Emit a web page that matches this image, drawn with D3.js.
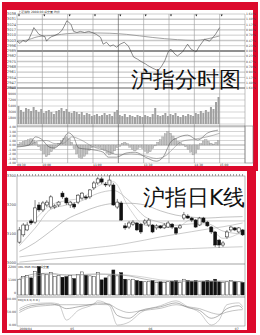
<!DOCTYPE html>
<html>
<head>
<meta charset="utf-8">
<script src="https://cdn.jsdelivr.net/npm/d3@7"></script>
<style>
  body { margin: 0; background: #fff; }
  svg { display: block; }
  text { font-family: "DejaVu Sans", sans-serif; }
</style>
</head>
<body>
<svg id="chart" width="260" height="335"></svg>
<script>
// ---- intraday (top) ----
const priceTicks = [3038, 3031, 3024, 3017, 3010, 3003, 2996, 2989, 2982, 2975, 2968, 2961, 2954, 2947, 2940];
const pctTicks = ["1.64%", "1.40%", "1.17%", "0.94%", "0.70%", "0.47%", "0.23%", "0.00%", "0.23%", "0.47%", "0.70%", "0.94%", "1.17%", "1.40%", "1.64%"];
const prevClose = 2989;
const timeTicks = [0, 30, 60, 90, 120, 150, 180, 210, 240, 270];
const timeLabelMin = [0, 30, 90, 150, 210, 240];
const timeLabels = ["09:30", "10:00", "11:00", "13:30", "14:30", "15:00"];

const lineMin = [0, 3.5, 7, 10.6, 14, 17.6, 20, 22, 26, 29, 33, 35, 38, 41, 45, 49, 53, 56, 59, 61, 64, 67, 71, 75, 80, 85, 89, 94, 99, 102, 106, 110, 114, 118, 122, 127, 132, 138, 143, 147, 152, 155, 161, 167, 171, 175, 179, 182, 187, 190, 196, 202, 206, 212, 216, 222, 228, 232, 235, 240];
const linePrice = [3002, 2999, 3003, 3001, 3004.5, 3013.5, 3020, 3017, 3011, 3009.6, 3008, 3002, 3006, 3008, 3009.6, 3012, 3016, 3022, 3029, 3027.5, 3024, 3015, 3013.5, 3015, 3013.5, 3015, 3013.5, 3011, 3007, 2998, 3000.6, 2995.4, 2997, 2994, 2998, 3000.6, 2995.4, 2981, 2978, 2975, 2972, 2969.7, 2966, 2963, 2968.4, 2976, 2987.7, 2991.6, 2985, 2982.5, 2987.7, 2998, 2991.6, 2987.7, 2995.4, 3004.5, 3002, 3007, 3011, 3020];
const avgMin = [0, 10, 25, 45, 60, 80, 110, 130, 160, 190, 210, 225, 240];
const avgPrice = [3002, 3003, 3008, 3010, 3012, 3013, 3012.5, 3011, 3007, 3004, 3003, 3005, 3009];

// one bar every 3 minutes
const minuteVol = [5400, 4200, 3600, 4800, 4500, 3900, 5100, 4200,
  3600, 4500, 3300, 3900, 4200, 3600, 3000, 3900,
  4200, 4800, 3900, 4500, 3600, 3300, 3900, 3600,
  3000, 3600, 2700, 3300, 3000, 2400, 2700, 3000,
  2400, 2700, 3300, 2700, 3000, 2400, 3600, 4200,
  2700, 2400, 3000, 2100, 2700, 2400, 2100, 2700,
  2400, 2100, 2700, 2400, 2100, 3000, 4800, 2700,
  2400, 2700, 3300, 2400, 3000, 2700, 3300, 2400,
  2100, 2700, 2400, 3000, 2700, 2400, 3300, 3000,
  3900, 3300, 4200, 3600, 5100, 4500, 6600, 8100];
const volTicks = [10800, 9000, 7200, 5400, 3600, 1800, 0];

const macdHist = [0.2, 0.5, 0.8, 1.0, 1.2, 1.4, 1.1, 0.6,
  -0.4, -1.2, -2.0, -2.6, -2.2, -1.5, -0.8, -0.3,
  0.4, 1.0, 1.5, 1.8, 1.4, 0.6, -0.8, -2.0,
  -2.8, -3.0, -2.5, -2.0, -1.2, -0.6, -0.3, -0.5,
  -0.6, -0.9, -1.2, -1.8, -2.2, -2.0, -1.3, -0.6,
  -0.3, 0.4, 0.6, 0.3, -0.5, -1.0, -1.3, -0.9,
  -0.5, -0.8, -1.4, -1.8, -1.5, -0.8, -0.2, 0.6,
  1.2, 1.8, 2.5, 3.0, 2.6, 2.0, 1.4, 0.8,
  0.5, 0.2, -0.4, -1.0, -1.6, -2.2, -1.8, -0.9,
  0.3, 0.9, 1.2, 0.8, 0.4, 0.2, 0.6, 1.0];
const difMin = [0, 14, 22, 29, 38, 44, 52, 61, 67, 73, 91, 102, 108, 118, 129, 140, 152, 165, 173, 182, 190, 202, 214, 226, 238];
const difVal = [-0.44, 0, 1.8, 1.3, -0.44, -0.67, 0.44, 2.7, 1.8, -0.67, -1.1, -1.6, -2.7, -2.7, -1.8, -1.6, -2.7, -3.6, -2.7, 0.67, 1.6, 2.2, 1.1, 2.7, 3.3];
const deaMin = [0, 14, 25, 35, 45, 55, 65, 75, 90, 105, 120, 135, 150, 165, 175, 185, 195, 210, 225, 240];
const deaVal = [-0.3, -0.1, 0.9, 1.0, 0.3, 0.4, 1.8, 1.2, -0.4, -1.2, -2.2, -2.0, -2.3, -3.0, -2.5, -0.8, 0.8, 1.3, 1.8, 2.6];
const macdTicks = [4, 3, 2, 1, 0, -1, -2, -3, -4];

// ---- daily K line (bottom) ----
const kOpen = [3072, 3097, 3114, 3145, 3141, 3200, 3183, 3200, 3193, 3193, 3200, 3241, 3224, 3200, 3203, 3210, 3224, 3228, 3228, 3259,
  3276, 3290, 3272, 3269, 3269, 3193, 3207, 3128, 3124, 3134, 3138, 3134, 3138, 3131, 3131, 3121, 3128, 3121, 3124, 3134,
  3121, 3121, 3155, 3162, 3155, 3148, 3131, 3155, 3141, 3124, 3107, 3079, 3062, 3090, 3114, 3121, 3107, 3114];
const kClose = [3114, 3131, 3131, 3138, 3190, 3183, 3207, 3210, 3228, 3197, 3210, 3228, 3207, 3210, 3193, 3234, 3241, 3224, 3252, 3276,
  3290, 3279, 3269, 3286, 3200, 3210, 3148, 3121, 3138, 3141, 3114, 3107, 3145, 3148, 3107, 3128, 3121, 3131, 3138, 3124,
  3103, 3128, 3166, 3155, 3148, 3124, 3155, 3141, 3128, 3107, 3062, 3062, 3069, 3107, 3124, 3114, 3121, 3097];
const kHigh = [3124, 3138, 3141, 3152, 3217, 3210, 3214, 3217, 3234, 3203, 3214, 3248, 3228, 3214, 3210, 3238, 3245, 3234, 3255, 3283,
  3297, 3297, 3279, 3303, 3276, 3221, 3214, 3138, 3145, 3148, 3141, 3138, 3152, 3155, 3134, 3134, 3131, 3138, 3145, 3138,
  3124, 3134, 3176, 3169, 3159, 3152, 3159, 3159, 3145, 3128, 3110, 3083, 3076, 3114, 3128, 3124, 3124, 3117];
const kLow = [3066, 3090, 3110, 3131, 3134, 3176, 3176, 3193, 3186, 3186, 3193, 3221, 3200, 3190, 3186, 3203, 3217, 3217, 3221, 3252,
  3269, 3272, 3262, 3262, 3197, 3186, 3145, 3114, 3117, 3128, 3110, 3100, 3131, 3124, 3103, 3114, 3117, 3117, 3121, 3117,
  3097, 3117, 3148, 3152, 3141, 3121, 3128, 3138, 3124, 3100, 3055, 3052, 3055, 3083, 3107, 3110, 3103, 3093];
const kVol = [1200, 1400, 1500, 1300, 1800, 2160, 1600, 1550, 1700, 1400, 1500, 1350, 1400, 1500, 1250, 1550, 1750, 1500, 1450, 1400,
  1700, 1150, 1300, 1450, 1900, 1450, 1700, 1200, 1150, 1200, 1100, 1050, 1000, 1050, 1100, 950, 1000, 950, 1000, 1050,
  1100, 950, 1200, 1100, 1050, 1100, 1000, 1050, 1100, 1050, 1200, 1000, 950, 1000, 1100, 1050, 1000, 950];
const kTicks = [3300, 3200, 3100, 3000];
const kTickLabels = ["3300", "3200", "3100", "3000"];
const kRefLine = 3145;

const maIdx = [0, 4, 8, 12, 16, 20, 24, 28, 32, 36, 40, 44, 48, 52, 57];
const ma5 = [3090, 3150, 3200, 3215, 3225, 3265, 3280, 3190, 3130, 3125, 3122, 3150, 3135, 3085, 3108];
const ma10 = [3060, 3120, 3185, 3200, 3215, 3240, 3250, 3215, 3160, 3140, 3130, 3135, 3135, 3110, 3100];
const ma20 = [3040, 3070, 3110, 3150, 3175, 3195, 3205, 3206, 3200, 3180, 3165, 3158, 3155, 3158, 3160];
const ma60 = [3021, 3028, 3035, 3041, 3048, 3054, 3060, 3069, 3079, 3090, 3099, 3108, 3117, 3125, 3138];
const ma120 = [3003, 3008, 3013, 3018, 3023, 3028, 3033, 3038, 3042, 3045, 3048, 3050, 3052, 3054, 3056];
const volMa5 = [1250, 1600, 1650, 1500, 1550, 1600, 1550, 1450, 1200, 1050, 1050, 1050, 1050, 1050, 1000];
const volMa10 = [1200, 1450, 1550, 1550, 1520, 1560, 1580, 1500, 1350, 1150, 1080, 1060, 1060, 1040, 1020];
const volTicksK = ["2200", "1100", "0"];

const kdjIdx = [0, 3, 8, 10, 12, 15, 19, 20, 23, 25, 28, 31, 36, 40, 43, 46, 49, 51, 53, 56, 57];
const kdjJ = [63, 81, 85, 81, 19, 56, 81, 93, 74, 0, 11, 48, 74, 93, 70, 48, 0, 19, 78, 85, 70];
const kdjK = [56, 74, 81, 75, 63, 70, 81, 85, 80, 37, 26, 56, 70, 85, 67, 56, 26, 37, 63, 74, 63];
const kdjD = [48, 68, 76, 78, 78, 78, 78, 79, 78, 62, 48, 55, 64, 78, 70, 63, 47, 41, 50, 58, 59];

const dateLabelIdx = [0, 13, 33, 55];
const dateLabels = ["2009/04", "05", "06", "07"];

// ---------------------------------------------------------
const RED = "#dc0a2c";
const svg = d3.select("#chart");
const small = 3.6;

svg.append("rect").attr("width", 260).attr("height", 335).attr("fill", "#fff");
svg.append("rect").attr("x", 2).attr("y", 2).attr("width", 256).attr("height", 169).attr("fill", RED);
svg.append("rect").attr("x", 2).attr("y", 166).attr("width", 254).attr("height", 167).attr("fill", RED);
svg.append("rect").attr("x", 7).attr("y", 10).attr("width", 246).attr("height", 156).attr("fill", "#fff");
svg.append("rect").attr("x", 7).attr("y", 171).attr("width", 240).attr("height", 159).attr("fill", "#fff");

// ===== top chart =====
const gTop = svg.append("g");
const xT = d3.scaleLinear().domain([0, 270]).range([17, 245]);
const yP = d3.scaleLinear().domain([2940, 3038]).range([88, 14]);
const yVol = d3.scaleLinear().domain([0, 10800]).range([124, 88]);
const yM = d3.scaleLinear().domain([-4, 4]).range([163, 127]);

gTop.append("text").attr("x", 18).attr("y", 13).attr("font-size", 3).attr("fill", "#333")
  .text("上证指数 " + prevClose + ".00  成交量  均价");

// horizontal price grid
gTop.selectAll(".pg").data(priceTicks).enter().append("line")
  .attr("x1", 17).attr("x2", 245)
  .attr("y1", d => yP(d)).attr("y2", d => yP(d))
  .attr("stroke", (d, i) => d === prevClose ? "#222" : (i % 2 ? "#c8c8c8" : "#999"))
  .attr("stroke-width", (d, i) => d === prevClose ? 1.2 : (i % 2 ? 1.4 : 0.5));
gTop.selectAll(".pl").data(priceTicks).enter().append("text")
  .attr("x", 16).attr("y", d => yP(d) + 1.2).attr("text-anchor", "end")
  .attr("font-size", small).attr("fill", "#444").text(d => d);
gTop.selectAll(".pr").data(pctTicks).enter().append("text")
  .attr("x", 246).attr("y", (d, i) => yP(priceTicks[i]) + 1.2)
  .attr("font-size", 3).attr("fill", "#444").text(d => d);

// volume grid
gTop.selectAll(".vg").data(volTicks).enter().append("line")
  .attr("x1", 17).attr("x2", 245).attr("y1", d => yVol(d)).attr("y2", d => yVol(d))
  .attr("stroke", "#aaa").attr("stroke-width", 0.5);
gTop.selectAll(".vl").data(volTicks.slice(0, -1)).enter().append("text")
  .attr("x", 16).attr("y", d => yVol(d) + 1.2).attr("text-anchor", "end")
  .attr("font-size", 3.2).attr("fill", "#444").text(d => d);

// macd grid
gTop.selectAll(".mg").data(macdTicks).enter().append("line")
  .attr("x1", 17).attr("x2", 245).attr("y1", d => yM(d)).attr("y2", d => yM(d))
  .attr("stroke", d => d === 0 ? "#555" : "#aaa").attr("stroke-width", 0.5);
gTop.selectAll(".ml").data(macdTicks).enter().append("text")
  .attr("x", 16).attr("y", d => yM(d) + 1.2).attr("text-anchor", "end")
  .attr("font-size", 3).attr("fill", "#444").text(d => d.toFixed(2));

// vertical grid
gTop.selectAll(".tg").data(timeTicks).enter().append("line")
  .attr("x1", d => xT(d)).attr("x2", d => xT(d)).attr("y1", 14).attr("y2", 163)
  .attr("stroke", d => d === 120 ? "#444" : "#999").attr("stroke-width", 0.6);
gTop.selectAll(".tm").data(timeTicks.slice(0, -1)).enter().append("path")
  .attr("d", d => `M${xT(d) + 1},14.5h2l-1,2z`).attr("fill", "#111");
gTop.append("line").attr("x1", 17).attr("x2", 245).attr("y1", 88).attr("y2", 88).attr("stroke", "#555").attr("stroke-width", 0.6);
gTop.append("line").attr("x1", 17).attr("x2", 245).attr("y1", 126).attr("y2", 126).attr("stroke", "#555").attr("stroke-width", 0.6);
gTop.append("rect").attr("x", 245).attr("y", 126).attr("width", 8).attr("height", 37)
  .attr("fill", "none").attr("stroke", "#777").attr("stroke-width", 0.6);

gTop.selectAll(".tl").data(timeLabelMin).enter().append("text")
  .attr("x", d => xT(d)).attr("y", 165.5).attr("font-size", 3).attr("fill", "#333")
  .text((d, i) => timeLabels[i]);

// volume bars
gTop.selectAll(".vb").data(minuteVol).enter().append("rect")
  .attr("x", (d, i) => xT(i * 3 + 0.5)).attr("width", 2)
  .attr("y", d => yVol(d)).attr("height", d => yVol(0) - yVol(d))
  .attr("fill", "#a0a0a0");

// macd bars
gTop.selectAll(".mb").data(macdHist).enter().append("rect")
  .attr("x", (d, i) => xT(i * 3 + 0.3)).attr("width", 2.3)
  .attr("y", d => yM(Math.max(0, d))).attr("height", d => Math.abs(yM(d) - yM(0)))
  .attr("fill", "#c4c4c4").attr("stroke", "#888").attr("stroke-width", 0.3);

const lineT = d3.line().curve(d3.curveMonotoneX);
gTop.append("path").attr("d", lineT(avgMin.map((m, i) => [xT(m), yP(avgPrice[i])])))
  .attr("fill", "none").attr("stroke", "#999").attr("stroke-width", 0.9);
gTop.append("path").attr("d", d3.line()(lineMin.map((m, i) => [xT(m), yP(linePrice[i])])))
  .attr("fill", "none").attr("stroke", "#444").attr("stroke-width", 0.6);
gTop.append("path").attr("d", lineT(difMin.map((m, i) => [xT(m), yM(difVal[i])])))
  .attr("fill", "none").attr("stroke", "#444").attr("stroke-width", 0.5);
gTop.append("path").attr("d", lineT(deaMin.map((m, i) => [xT(m), yM(deaVal[i])])))
  .attr("fill", "none").attr("stroke", "#777").attr("stroke-width", 0.5);

gTop.append("text").attr("x", 131).attr("y", 87).attr("font-size", 22)
  .attr("font-family", "Noto Sans CJK SC").attr("fill", "#111").text("沪指分时图");

// ===== bottom chart =====
const gBot = svg.append("g");
const n = kOpen.length;
const xK = d3.scaleBand().domain(d3.range(n)).range([17, 245]).padding(0.22);
const cx = i => xK(i) + xK.bandwidth() / 2;
const yK = d3.scaleLinear().domain([3000, 3300]).range([263, 176]);
const yKV = d3.scaleLinear().domain([0, 2200]).range([295, 266]);
const yI = d3.scaleLinear().domain([0, 100]).range([325, 299]);

gBot.append("line").attr("x1", 17).attr("x2", 245).attr("y1", 175).attr("y2", 175)
  .attr("stroke", "#444").attr("stroke-width", 1).attr("stroke-dasharray", "1,2");
gBot.append("rect").attr("x", 17).attr("y", 176).attr("width", 228).attr("height", 150)
  .attr("fill", "none").attr("stroke", "#888").attr("stroke-width", 0.6);
gBot.append("line").attr("x1", 17).attr("x2", 245).attr("y1", 264).attr("y2", 264).attr("stroke", "#666").attr("stroke-width", 0.6);
gBot.append("line").attr("x1", 17).attr("x2", 245).attr("y1", 297).attr("y2", 297).attr("stroke", "#666").attr("stroke-width", 0.6);
gBot.append("line").attr("x1", 17).attr("x2", 245).attr("y1", yK(kRefLine)).attr("y2", yK(kRefLine))
  .attr("stroke", "#999").attr("stroke-width", 0.5);

gBot.selectAll(".kl").data(kTicks).enter().append("text")
  .attr("x", 16).attr("y", d => yK(d) + 1.2).attr("text-anchor", "end")
  .attr("font-size", small).attr("fill", "#444").text((d, i) => kTickLabels[i]);
gBot.selectAll(".kvl").data(volTicksK).enter().append("text")
  .attr("x", 16).attr("y", (d, i) => 268 + i * 13).attr("text-anchor", "end")
  .attr("font-size", 3.2).attr("fill", "#444").text(d => d);
gBot.selectAll(".kil").data([100, 50, 0]).enter().append("text")
  .attr("x", 16).attr("y", d => yI(d) + 1.2).attr("text-anchor", "end")
  .attr("font-size", 3.2).attr("fill", "#444").text(d => d.toFixed(2));
gBot.append("text").attr("x", 18).attr("y", 268).attr("font-size", 2.8).attr("fill", "#333")
  .text("VOL  MA5 MA10  成交量");
gBot.append("text").attr("x", 18).attr("y", 300.5).attr("font-size", 2.8).attr("fill", "#333")
  .text("KDJ(9,3,3)  K  D  J");

// MA lines
const lineK = d3.line().curve(d3.curveMonotoneX);
[[ma120, "#999"], [ma60, "#999"], [ma20, "#888"], [ma10, "#999"], [ma5, "#aaa"]].forEach(([arr, c]) => {
  gBot.append("path").attr("d", lineK(maIdx.map((k, i) => [cx(k), yK(arr[i])])))
    .attr("fill", "none").attr("stroke", c).attr("stroke-width", 0.5);
});

// candles
const candles = gBot.selectAll(".c").data(d3.range(n)).enter().append("g");
candles.append("line")
  .attr("x1", cx).attr("x2", cx).attr("y1", i => yK(kHigh[i])).attr("y2", i => yK(kLow[i]))
  .attr("stroke", "#111").attr("stroke-width", 0.5);
candles.append("rect")
  .attr("x", i => xK(i)).attr("width", xK.bandwidth())
  .attr("y", i => yK(Math.max(kOpen[i], kClose[i])))
  .attr("height", i => Math.max(0.8, Math.abs(yK(kOpen[i]) - yK(kClose[i]))))
  .attr("fill", i => kClose[i] >= kOpen[i] ? "#fff" : "#111")
  .attr("stroke", "#111").attr("stroke-width", 0.5);

// volume
gBot.selectAll(".kv").data(d3.range(n)).enter().append("rect")
  .attr("x", i => xK(i)).attr("width", xK.bandwidth())
  .attr("y", i => yKV(kVol[i])).attr("height", i => yKV(0) - yKV(kVol[i]))
  .attr("fill", i => kClose[i] >= kOpen[i] ? "#fff" : "#111")
  .attr("stroke", "#111").attr("stroke-width", 0.4);
[[volMa5, "#777"], [volMa10, "#aaa"]].forEach(([arr, c]) => {
  gBot.append("path").attr("d", lineK(maIdx.map((k, i) => [cx(k), yKV(arr[i])])))
    .attr("fill", "none").attr("stroke", c).attr("stroke-width", 0.5);
});

// KDJ
[[kdjD, "#888"], [kdjK, "#666"], [kdjJ, "#999"]].forEach(([arr, c]) => {
  gBot.append("path").attr("d", lineK(kdjIdx.map((k, i) => [cx(k), yI(arr[i])])))
    .attr("fill", "none").attr("stroke", c).attr("stroke-width", 0.5);
});

gBot.selectAll(".dl").data(dateLabelIdx).enter().append("text")
  .attr("x", d => cx(d)).attr("y", 329.5).attr("font-size", 3).attr("fill", "#333")
  .text((d, i) => dateLabels[i]);

gBot.append("text").attr("x", 143).attr("y", 205).attr("font-size", 22)
  .attr("font-family", "Noto Sans CJK SC").attr("fill", "#111").text("沪指日K线");
</script>
</body>
</html>
